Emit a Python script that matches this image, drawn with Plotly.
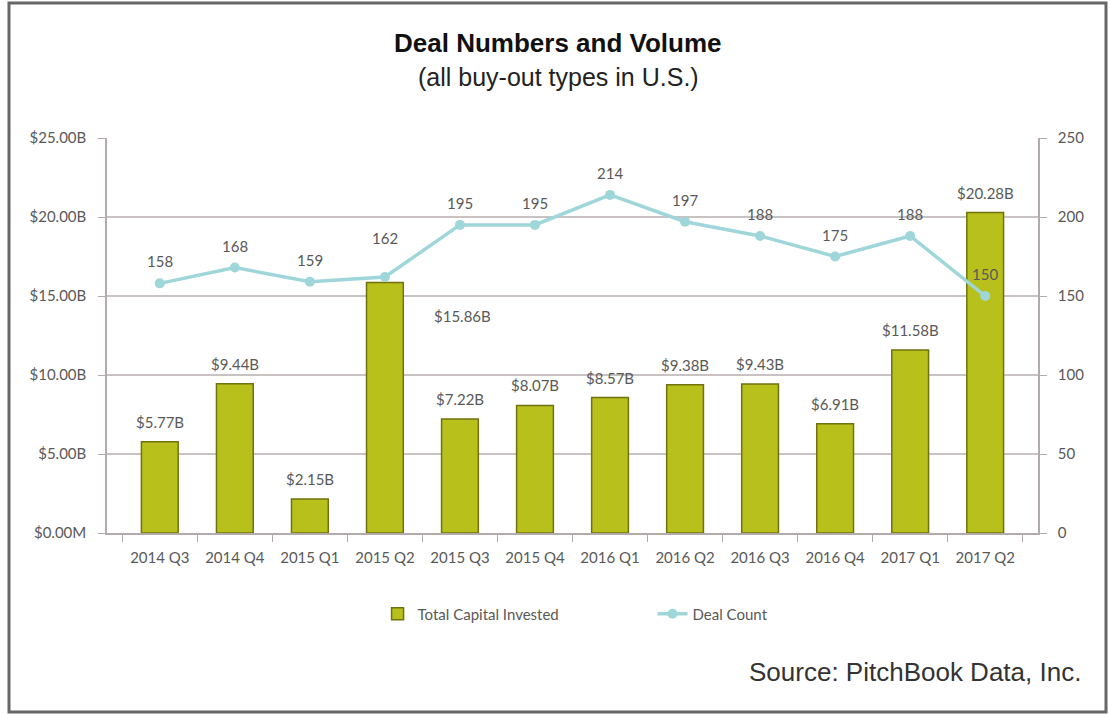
import plotly.graph_objects as go

# Quarterly buy-out activity in the U.S.
quarters = ["2014 Q3", "2014 Q4", "2015 Q1", "2015 Q2", "2015 Q3", "2015 Q4",
            "2016 Q1", "2016 Q2", "2016 Q3", "2016 Q4", "2017 Q1", "2017 Q2"]
capital_bn = [5.77, 9.44, 2.15, 15.86, 7.22, 8.07, 8.57, 9.38, 9.43, 6.91, 11.58, 20.28]
deal_count = [158, 168, 159, 162, 195, 195, 214, 197, 188, 175, 188, 150]

left_ticks = [0, 5, 10, 15, 20, 25]
left_tick_text = ["$0.00M", "$5.00B", "$10.00B", "$15.00B", "$20.00B", "$25.00B"]

TICK_FONT = dict(family="Lato, Carlito, sans-serif", size=15, color="#595959")
GRID = "#c9c2c2"
AXIS = "#b3abab"

fig = go.Figure()

fig.add_trace(go.Bar(
    x=quarters, y=capital_bn, name="Total Capital Invested",
    marker=dict(color="#b8c11c", line=dict(color="#6f720e", width=1.5)),
    width=0.49, yaxis="y",
))

fig.add_trace(go.Scatter(
    x=quarters, y=deal_count, name="Deal Count", mode="lines+markers",
    line=dict(color="#9fd6da", width=3.5),
    marker=dict(color="#9fd6da", size=10),
    yaxis="y2",
))

# bar value labels
for q, v in zip(quarters, capital_bn):
    a = dict(x=q, y=v, xref="x", yref="y", text=f"${v:.2f}B", showarrow=False,
             font=TICK_FONT, yshift=20)
    if q == "2015 Q2":
        a.update(xshift=78, yshift=-34)
    fig.add_annotation(**a)

# deal count labels
for q, n in zip(quarters, deal_count):
    a = dict(x=q, y=n, xref="x", yref="y2", text=str(n), showarrow=False,
             font=TICK_FONT, yshift=22)
    if q == "2015 Q2":
        a.update(yshift=39)
    fig.add_annotation(**a)

fig.update_layout(
    width=1110, height=714,
    margin=dict(l=107, r=72, t=138, b=181),
    paper_bgcolor="white", plot_bgcolor="white",
    showlegend=True,
    legend=dict(orientation="h", x=0.586, xanchor="center", y=-0.205, yanchor="middle",
                font=dict(family="Lato, Carlito, sans-serif", size=15, color="#595959"),
                traceorder="normal", entrywidth=230, entrywidthmode="pixels"),
    xaxis=dict(
        showline=True, linecolor=AXIS, linewidth=1.5,
        ticks="outside", tickson="boundaries", ticklen=7, tickcolor=AXIS,
        tickfont=TICK_FONT, showgrid=False, ticklabelstandoff=10,
    ),
    yaxis=dict(
        range=[0, 25], tickvals=left_ticks, ticktext=left_tick_text,
        showline=True, linecolor=AXIS, linewidth=1.5,
        ticks="outside", ticklen=7, tickcolor=AXIS,
        showgrid=True, gridcolor=GRID, gridwidth=1.5, zeroline=False,
        tickfont=TICK_FONT, ticklabelstandoff=9,
    ),
    yaxis2=dict(
        range=[0, 250], dtick=50, overlaying="y", side="right",
        showline=True, linecolor=AXIS, linewidth=1.5,
        ticks="outside", ticklen=7, tickcolor=AXIS,
        showgrid=False, zeroline=False, tickfont=TICK_FONT, ticklabelstandoff=8,
    ),
)

# heading, subtitle and source, positioned in pixels via paper coordinates
W_PLOT = 1110 - 107 - 72
H_PLOT = 714 - 138 - 181


def px_x(x):
    return (x - 107) / W_PLOT


def px_y(y):
    return (533 - y) / H_PLOT


head_font = "Liberation Sans, Arial, Helvetica, sans-serif"
fig.add_annotation(x=px_x(558), y=px_y(43), xref="paper", yref="paper", yanchor="middle",
                   text="<b>Deal Numbers and Volume</b>", showarrow=False,
                   font=dict(family=head_font, size=26, color="#111111"))
fig.add_annotation(x=px_x(558), y=px_y(77), xref="paper", yref="paper", yanchor="middle",
                   text="(all buy-out types in U.S.)", showarrow=False,
                   font=dict(family=head_font, size=25, color="#222222"))
fig.add_annotation(x=px_x(1083), y=px_y(672), xref="paper", yref="paper", yanchor="middle",
                   xanchor="right", text="Source: PitchBook Data, Inc.", showarrow=False,
                   font=dict(family=head_font, size=26, color="#333333"))

# outer frame
fig.add_shape(type="rect", xref="paper", yref="paper",
              x0=px_x(9), x1=px_x(1106), y0=px_y(712), y1=px_y(3),
              line=dict(color="#676767", width=3), fillcolor="rgba(0,0,0,0)")

fig.write_html("out.html")
